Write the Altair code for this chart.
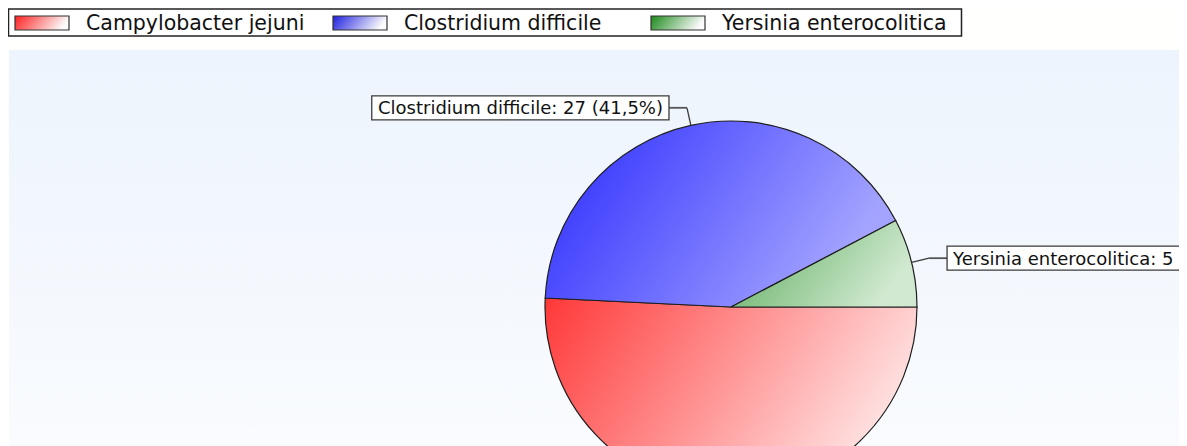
import math
import altair as alt
import pandas as pd

# ---- data ----
categories = ["Campylobacter jejuni", "Clostridium difficile", "Yersinia enterocolitica"]
counts = [33, 27, 5]
slice_order = [2, 1, 0]          # drawing order counter-clockwise from 3 o'clock
legend_slot = [0, 1, 2]

# ---- styles ----
base_colors = ["#ff3838", "#2828ff", "#5aaa5a"]
light_colors = ["#ffe0e0", "#a4a4ff", "#d0e9d0"]
swatch_dark = ["#ff2020", "#2020e0", "#1c8a1c"]

FONT = "DejaVu Sans"
W, H = 1171, 438
CX, CY, R = 723, 299, 186
ELBOW, HSEG = 18, 18
LABEL_FS = 18
LEG_FS = 20.5

total = sum(counts)
labels = [f"{c}: {v} ({v / total * 100:.1f}%)".replace(".", ",") for c, v in zip(categories, counts)]

_cw = {' ': 0.318, '%': 0.950, '(': 0.390, ')': 0.390, ',': 0.318, ':': 0.337, 'C': 0.698, 'Y': 0.611,
       'a': 0.613, 'b': 0.635, 'c': 0.550, 'd': 0.635, 'e': 0.615, 'f': 0.352, 'i': 0.278, 'j': 0.278,
       'l': 0.278, 'm': 0.974, 'n': 0.634, 'o': 0.612, 'p': 0.635, 'r': 0.411, 's': 0.521, 't': 0.392,
       'u': 0.634, 'y': 0.592}


def text_w(s, fs):
    return sum(_cw.get(ch, 0.636) for ch in s) * fs


box_w = [text_w(l, LABEL_FS) + 12 for l in labels]

df = pd.DataFrame({
    "name": categories,
    "value": counts,
    "order": slice_order,
    "slot": legend_slot,
    "label": labels,
    "boxw": box_w,
})


def grad(c0, c1, x2=1, y2=0.35):
    return alt.LinearGradient(
        gradient="linear", x1=0, y1=0, x2=x2, y2=y2,
        stops=[alt.GradientStop(color=c0, offset=0), alt.GradientStop(color=c1, offset=1)],
    )


base = (
    alt.Chart(df)
    .transform_joinaggregate(total="sum(value)")
    .transform_window(cum="sum(value)", sort=[alt.SortField("order")], frame=[None, 0])
    .transform_calculate(
        t0="datum.cum - datum.value",
        t1="datum.cum",
        a="(datum.cum - datum.value / 2) / datum.total * 2 * PI",
    )
    .transform_calculate(
        ex=f"{CX} + {R} * cos(datum.a)",
        ey=f"{CY} - {R} * sin(datum.a)",
        bx=f"{CX} + {R + ELBOW} * cos(datum.a)",
        by=f"{CY} - {R + ELBOW} * sin(datum.a)",
        side="cos(datum.a) >= 0 ? 1 : -1",
    )
    .transform_calculate(
        hx=f"datum.bx + {HSEG} * datum.side",
    )
    .transform_calculate(
        bend="datum.hx + datum.side * datum.boxw",
        bt="datum.by - 12",
        bb="datum.by + 12",
        tx="datum.hx + datum.side * 6",
        ty=f"datum.by + {LABEL_FS * 0.36}",
    )
)

px = lambda f: alt.X(f"{f}:Q", scale=None)
py = lambda f: alt.Y(f"{f}:Q", scale=None)

one = pd.DataFrame({"k": [0]})

bg_top = alt.Chart(one).mark_rect(fill="#fffffd").encode(
    x=alt.value(0), x2=alt.value(W), y=alt.value(0), y2=alt.value(42))
plot_bg = alt.Chart(one).mark_rect(
    fill=grad("#edf4fd", "#f9fbfe", x2=0, y2=1)
).encode(x=alt.value(1), x2=alt.value(W), y=alt.value(42), y2=alt.value(H))

layers = [bg_top, plot_bg]

theta_scale = alt.Scale(domain=[0, total], range=[math.pi / 2 + 2 * math.pi, math.pi / 2])
for i, cat in enumerate(categories):
    layers.append(
        base.transform_filter(alt.datum.name == cat)
        .mark_arc(radius=R, stroke="#1e1e1e", strokeWidth=1.2, fill=grad(base_colors[i], light_colors[i]))
        .encode(
            theta=alt.Theta("t0:Q", scale=theta_scale, stack=None),
            theta2="t1:Q",
            x=alt.value(CX),
            y=alt.value(CY),
        )
    )

leader1 = base.mark_rule(color="#3a3a3a", strokeWidth=1.3).encode(
    x=px("ex"), y=py("ey"), x2="bx:Q", y2="by:Q")
leader2 = base.mark_rule(color="#555555", strokeWidth=1.8).encode(
    x=px("bx"), y=py("by"), x2="hx:Q", y2="by:Q")
boxes = base.mark_rect(fill="white", stroke="#3a3a3a", strokeWidth=1.3).encode(
    x=px("hx"), x2="bend:Q", y=py("bt"), y2="bb:Q")
txt_r = base.transform_filter("datum.side > 0").mark_text(
    align="left", baseline="alphabetic", font=FONT, fontSize=LABEL_FS, color="#111111"
).encode(x=px("tx"), y=py("ty"), text="label:N")
txt_l = base.transform_filter("datum.side < 0").mark_text(
    align="right", baseline="alphabetic", font=FONT, fontSize=LABEL_FS, color="#111111"
).encode(x=px("tx"), y=py("ty"), text="label:N")

layers += [leader1, leader2, boxes, txt_r, txt_l]

# ---- legend ----
leg_box = alt.Chart(one).mark_rect(fill="white", stroke="#222222", strokeWidth=1.5).encode(
    x=alt.value(0.5), x2=alt.value(953.5), y=alt.value(1), y2=alt.value(28))
layers.append(leg_box)

leg = alt.Chart(df).transform_calculate(
    sx="7 + datum.slot * 318", sx2="61 + datum.slot * 318", lx="78 + datum.slot * 318",
    sy="8", sy2="22", ly="21.5",
)
for i, cat in enumerate(categories):
    layers.append(
        leg.transform_filter(alt.datum.name == cat)
        .mark_rect(stroke="#333333", strokeWidth=1.2, fill=grad(swatch_dark[i], "#fbfbfb", x2=1, y2=0.2))
        .encode(x=px("sx"), x2="sx2:Q", y=py("sy"), y2="sy2:Q")
    )
layers.append(
    leg.mark_text(align="left", baseline="alphabetic", font=FONT, fontSize=LEG_FS, color="#111111")
    .encode(x=px("lx"), y=py("ly"), text="name:N")
)

chart = (
    alt.layer(*layers)
    .properties(width=W, height=H, padding=0, background="white",
                autosize=alt.AutoSizeParams(type="none"))
    .configure_view(stroke=None)
)

chart.save("out.html", embed_options={"renderer": "svg", "actions": False})
